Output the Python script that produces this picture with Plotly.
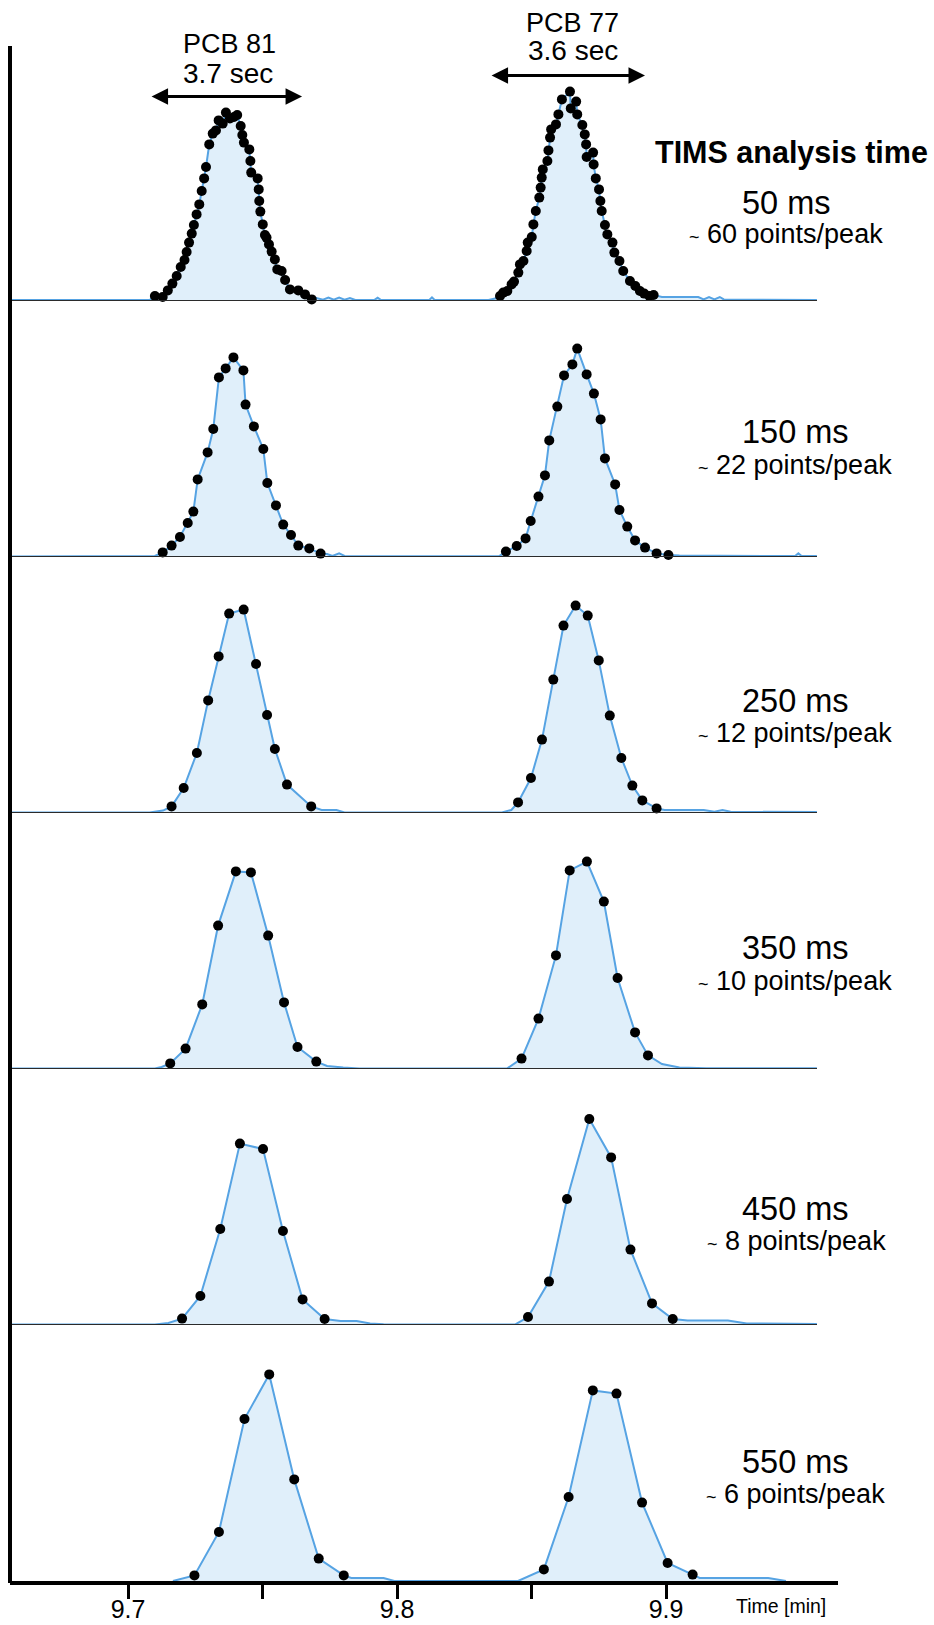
import plotly.graph_objects as go
from plotly.subplots import make_subplots

# ---------------- data (time in min, intensity in arbitrary units) ----------------
analysis_times = ["50 ms", "150 ms", "250 ms", "350 ms", "450 ms", "550 ms"]
points_labels = ["60 points/peak", "22 points/peak", "12 points/peak",
                 "10 points/peak", "8 points/peak", "6 points/peak"]
compounds = ["PCB 81", "PCB 77"]
peak_widths = ["3.7 sec", "3.6 sec"]
# start / end of peak-width arrows (min)
width_start = [9.7082, 9.8346]
width_end = [9.7647, 9.8922]

tick_vals = [9.7, 9.75, 9.8, 9.85, 9.9]
tick_text = ["9.7", "", "9.8", "", "9.9"]

# --- 50 ms ---
scan_t_50 = [9.7100, 9.7129, 9.7148, 9.7165, 9.7181, 9.7196, 9.7210, 9.7218, 9.7227, 9.7237,
             9.7245, 9.7255, 9.7265, 9.7274, 9.7283, 9.7290, 9.7302, 9.7315, 9.7327, 9.7337,
             9.7352, 9.7364, 9.7379, 9.7394, 9.7406, 9.7419, 9.7425, 9.7431, 9.7451, 9.7455,
             9.7458, 9.7482, 9.7486, 9.7488, 9.7492, 9.7501, 9.7509, 9.7515, 9.7524, 9.7534,
             9.7546, 9.7555, 9.7571, 9.7584, 9.7602, 9.7633, 9.7658, 9.7683,
             9.8383, 9.8395, 9.8410, 9.8426, 9.8435, 9.8451, 9.8457, 9.8470, 9.8482, 9.8486,
             9.8501, 9.8507, 9.8516, 9.8529, 9.8534, 9.8538, 9.8542, 9.8559, 9.8563, 9.8569,
             9.8573, 9.8591, 9.8600, 9.8613, 9.8643, 9.8646, 9.8666, 9.8670, 9.8689, 9.8698,
             9.8703, 9.8705, 9.8729, 9.8731, 9.8739, 9.8751, 9.8756, 9.8761, 9.8773, 9.8782,
             9.8801, 9.8808, 9.8827, 9.8841, 9.8866, 9.8886, 9.8903, 9.8919, 9.8938, 9.8954]
scan_i_50 = [2.5, 2.0, 5.3, 8.7, 12.5, 17, 20.5, 24.5, 29.2, 33.7,
             38, 43.3, 48.3, 55, 61.3, 67, 78.3, 83.7, 85.3, 90.3,
             88.7, 94.2, 91.3, 92, 93, 87.5, 83, 79.2, 75.8, 70,
             64.2, 61.3, 55.8, 50, 44.7, 38.3, 33, 31.7, 28.3, 24.7,
             20.8, 15.8, 15, 10.5, 5.8, 5.3, 3.3, 0.8,
             2.5, 4.2, 5, 8.3, 9.7, 14.2, 18.3, 20, 25, 29.2,
             32, 38.3, 45, 51.7, 56.7, 61.7, 65.8, 70, 75.3, 81.7,
             85.8, 88.3, 93.3, 100.8, 104.7, 96.3, 99.7, 93.3, 88, 83.3,
             78.3, 72, 74.2, 68.3, 61.3, 55.8, 50, 45, 38, 33.3,
             29.2, 24.2, 20, 15, 10, 7.5, 5, 3.7, 2.5, 3]
base_t_50 = [9.6561, 9.7080, 9.7700, 9.7725, 9.7745, 9.7765, 9.7785, 9.7805, 9.7825, 9.7845,
             9.7915, 9.7928, 9.7941, 9.8120, 9.8130, 9.8140, 9.8340, 9.8365,
             9.8985, 9.9120, 9.9140, 9.9160, 9.9180, 9.9200, 9.9215, 9.9250, 9.9561]
base_i_50 = [0.5, 0.5, 1.5, 0.7, 1.7, 0.7, 1.7, 0.7, 1.5, 0.5,
             0.5, 1.6, 0.5, 0.5, 1.8, 0.5, 0.5, 1.2,
             2.0, 2.0, 0.8, 2.0, 0.8, 2.0, 0.8, 0.6, 0.5]

# --- 150 ms ---
scan_t_150 = [9.7129, 9.7162, 9.7193, 9.7222, 9.7243, 9.7259, 9.7296, 9.7317, 9.7338, 9.7363,
              9.7392, 9.7429, 9.7437, 9.7468, 9.7503, 9.7518, 9.7550, 9.7577, 9.7606, 9.7633,
              9.7674, 9.7716,
              9.8405, 9.8445, 9.8478, 9.8497, 9.8526, 9.8550, 9.8566, 9.8596, 9.8621, 9.8652,
              9.8670, 9.8705, 9.8732, 9.8757, 9.8773, 9.8811, 9.8827, 9.8856, 9.8885, 9.8922,
              9.8965, 9.9009]
scan_i_150 = [2.3, 5.7, 10, 17, 22.7, 38.8, 52.3, 64, 89.8, 94.3,
              99.8, 93.3, 76.2, 65.3, 54, 37, 25.8, 16.2, 11, 5.7,
              4.3, 1.7,
              2.7, 5.5, 9.3, 18, 30.2, 40.8, 58.3, 75.2, 90.8, 96.3,
              104.2, 91.3, 81.7, 68.8, 49.3, 36.3, 23.5, 15.2, 8.3, 4.7,
              1.8, 1.0]
base_t_150 = [9.6561, 9.7100, 9.7740, 9.7760, 9.7785, 9.7805, 9.8380,
              9.9050, 9.9200, 9.9480, 9.9492, 9.9504, 9.9561]
base_i_150 = [0.3, 0.5, 1.5, 0.5, 1.8, 0.5, 0.4,
              0.8, 0.6, 0.5, 1.8, 0.5, 0.5]

# --- 250 ms ---
scan_t_250 = [9.7162, 9.7207, 9.7256, 9.7298, 9.7337, 9.7376, 9.7430, 9.7476, 9.7517, 9.7546,
              9.7591, 9.7681,
              9.8450, 9.8498, 9.8539, 9.8581, 9.8619, 9.8664, 9.8709, 9.8750, 9.8791, 9.8834,
              9.8875, 9.8912, 9.8965]
scan_i_250 = [3.3, 12.5, 30, 56.3, 78.3, 99.7, 101.7, 74.5, 49, 32,
              14.2, 3.3,
              5.3, 17.5, 36.7, 66.7, 93.7, 103.7, 98.7, 76.3, 48.7, 27.5,
              13.7, 6.3, 2.3]
base_t_250 = [9.6561, 9.7080, 9.7130, 9.7720, 9.7775, 9.7805, 9.8390, 9.8425,
              9.8995, 9.9140, 9.9180, 9.9210, 9.9240, 9.9561]
base_i_250 = [0.3, 0.3, 1.2, 1.5, 1.5, 0.3, 0.3, 1.5,
              1.5, 1.5, 0.6, 1.5, 0.6, 0.5]

# --- 350 ms ---
scan_t_350 = [9.7157, 9.7214, 9.7276, 9.7335, 9.7401, 9.7457, 9.7521, 9.7580, 9.7630, 9.7700,
              9.8463, 9.8526, 9.8591, 9.8642, 9.8706, 9.8769, 9.8820, 9.8885, 9.8933]
scan_i_350 = [2.8, 10.2, 32.3, 71.7, 98.8, 98.3, 66.7, 33.3, 11, 3.7,
              5.2, 25.2, 56.8, 99.3, 103.7, 83.7, 45.5, 18.3, 6.8]
base_t_350 = [9.6561, 9.7100, 9.7125, 9.7740, 9.7800, 9.7860, 9.8410,
              9.8985, 9.9050, 9.9150, 9.9561]
base_i_350 = [0.3, 0.3, 1.0, 1.5, 0.8, 0.3, 0.3,
              2.5, 0.8, 0.4, 0.4]

# --- 450 ms ---
scan_t_450 = [9.7201, 9.7269, 9.7343, 9.7416, 9.7502, 9.7576, 9.7649, 9.7731,
              9.8487, 9.8565, 9.8632, 9.8715, 9.8796, 9.8868, 9.8948, 9.9025]
scan_i_450 = [3.2, 14.5, 48, 90.7, 88, 47, 12.8, 3,
              4, 21.7, 63, 103, 83.8, 37.7, 10.8, 3]
base_t_450 = [9.6561, 9.7100, 9.7150, 9.7790, 9.7850, 9.7900, 9.7950, 9.8440,
              9.9080, 9.9230, 9.9300, 9.9561]
base_i_450 = [0.3, 0.3, 1.0, 2.0, 2.0, 0.8, 0.4, 0.3,
              2.2, 2.2, 0.8, 0.5]

# --- 550 ms ---
scan_t_550 = [9.7247, 9.7338, 9.7433, 9.7525, 9.7618, 9.7709, 9.7802,
              9.8546, 9.8638, 9.8728, 9.8816, 9.8911, 9.9006, 9.9099]
scan_i_550 = [2.8, 24.5, 81, 103.3, 50.8, 11.2, 2.8,
              5.8, 42, 95.3, 93.7, 39.2, 9, 3.2]
base_t_550 = [9.7167, 9.7200, 9.7830, 9.7950, 9.7990, 9.8450,
              9.9125, 9.9380, 9.9446]
base_i_550 = [0.0, 1.0, 1.5, 1.5, 0.0, 0.0,
              1.5, 1.5, 0.0]

panels = [
    (scan_t_50, scan_i_50, base_t_50, base_i_50),
    (scan_t_150, scan_i_150, base_t_150, base_i_150),
    (scan_t_250, scan_i_250, base_t_250, base_i_250),
    (scan_t_350, scan_i_350, base_t_350, base_i_350),
    (scan_t_450, scan_i_450, base_t_450, base_i_450),
    (scan_t_550, scan_i_550, base_t_550, base_i_550),
]

# ---------------- layout geometry ----------------
W, H = 934, 1625
ML, MR, MT, MB = 10, 96, 45, 44
PW, PH = W - ML - MR, H - MT - MB
T_MIN, T_MAX = 9.656134, 9.963941
T_LINE_END = 9.956134
Y_MAX = 128

FONT = "Liberation Sans, Arial, Helvetica, sans-serif"
LINE_BLUE = "#56a3e3"
FILL_BLUE = "rgba(214,233,248,0.75)"


def px(x):
    return (x - ML) / PW


def py(y):
    return (H - MB - y) / PH


fig = make_subplots(rows=6, cols=1, shared_xaxes=True, vertical_spacing=0)

for k, (st, si, bt, bi) in enumerate(panels):
    row = k + 1
    pts = sorted(list(zip(st, si)) + list(zip(bt, bi)))
    lt = [p[0] for p in pts]
    li = [p[1] for p in pts]
    fig.add_trace(go.Scatter(x=lt, y=li, mode="lines", fill="tozeroy",
                             fillcolor=FILL_BLUE,
                             line=dict(color=LINE_BLUE, width=2),
                             hoverinfo="skip", showlegend=False), row=row, col=1)
    fig.add_trace(go.Scatter(x=st, y=si, mode="markers",
                             marker=dict(color="black", size=10),
                             cliponaxis=False, showlegend=False), row=row, col=1)
    yref = "y" if row == 1 else f"y{row}"
    xref = "x" if row == 1 else f"x{row}"
    if row < 6:
        fig.add_shape(type="line", xref=xref, yref=yref, x0=T_MIN, x1=T_LINE_END,
                      y0=0, y1=0, line=dict(color="#2b2b2b", width=2), layer="above")

for row in range(1, 7):
    fig.update_yaxes(range=[0, Y_MAX], visible=False, fixedrange=True, automargin=False,
                     row=row, col=1)
    if row < 6:
        fig.update_xaxes(range=[T_MIN, T_MAX], visible=False, automargin=False, row=row, col=1)

fig.update_xaxes(range=[T_MIN, T_MAX], visible=True, showgrid=False, zeroline=False,
                 automargin=False,
                 showline=True, linecolor="black", linewidth=4,
                 ticks="outside", ticklen=14, tickwidth=2.5, tickcolor="black",
                 tickvals=tick_vals, ticktext=tick_text, ticklabelstandoff=-11,
                 tickfont=dict(family=FONT, size=25, color="black"),
                 row=6, col=1)

# left axis line
fig.add_shape(type="line", xref="paper", yref="paper", x0=0, x1=0, y0=py(H - MB + 2), y1=py(46),
              line=dict(color="black", width=4))

ann = []
# peak width arrows and compound labels (panel 1)
arrow_y = [102.3, 112.7]
label_px = [((229, 43.5), (228, 73.6)), ((572, 23), (573, 50))]
for j in range(2):
    ann.append(dict(xref="x", yref="y", axref="x", ayref="y",
                    x=width_end[j], y=arrow_y[j], ax=width_start[j], ay=arrow_y[j],
                    text="", showarrow=True, arrowhead=2, startarrowhead=2,
                    arrowside="end+start", arrowwidth=3, arrowsize=1.1, startarrowsize=1.1,
                    arrowcolor="black", standoff=0, startstandoff=0))
    (cx1, cy1), (cx2, cy2) = label_px[j]
    ann.append(dict(xref="paper", yref="paper", x=px(cx1), y=py(cy1), text=compounds[j],
                    showarrow=False, xanchor="center", yanchor="middle",
                    font=dict(family=FONT, size=27, color="black")))
    ann.append(dict(xref="paper", yref="paper", x=px(cx2), y=py(cy2), text=peak_widths[j],
                    showarrow=False, xanchor="center", yanchor="middle",
                    font=dict(family=FONT, size=28, color="black")))

ann.append(dict(xref="paper", yref="paper", x=px(791), y=py(152), text="<b>TIMS analysis time</b>",
                showarrow=False, xanchor="center", yanchor="middle",
                font=dict(family=FONT, size=30.5, color="black")))

ms_pos = [(786, 203), (795, 432), (795, 701), (795, 948), (795, 1209), (795, 1462)]
pt_pos = [(786, 234), (795, 465), (795, 733), (795, 981), (796, 1241), (795, 1494)]
for k in range(6):
    ann.append(dict(xref="paper", yref="paper", x=px(ms_pos[k][0]), y=py(ms_pos[k][1]),
                    text=analysis_times[k], showarrow=False, xanchor="center", yanchor="middle",
                    font=dict(family=FONT, size=32.5, color="black")))
    ann.append(dict(xref="paper", yref="paper", x=px(pt_pos[k][0]), y=py(pt_pos[k][1]),
                    text="<span style='font-size:18px'>~</span> " + points_labels[k],
                    showarrow=False, xanchor="center", yanchor="middle",
                    font=dict(family=FONT, size=27, color="black")))

ann.append(dict(xref="paper", yref="paper", x=px(781), y=py(1606), text="Time [min]",
                showarrow=False, xanchor="center", yanchor="middle",
                font=dict(family=FONT, size=19.5, color="black")))

fig.update_layout(width=W, height=H, margin=dict(l=ML, r=MR, t=MT, b=MB, autoexpand=False),
                  paper_bgcolor="white", plot_bgcolor="white",
                  annotations=ann, showlegend=False)

fig.write_html("out.html", config={"displayModeBar": False},
               post_script="document.body.style.margin='0';document.body.style.overflow='hidden';")
